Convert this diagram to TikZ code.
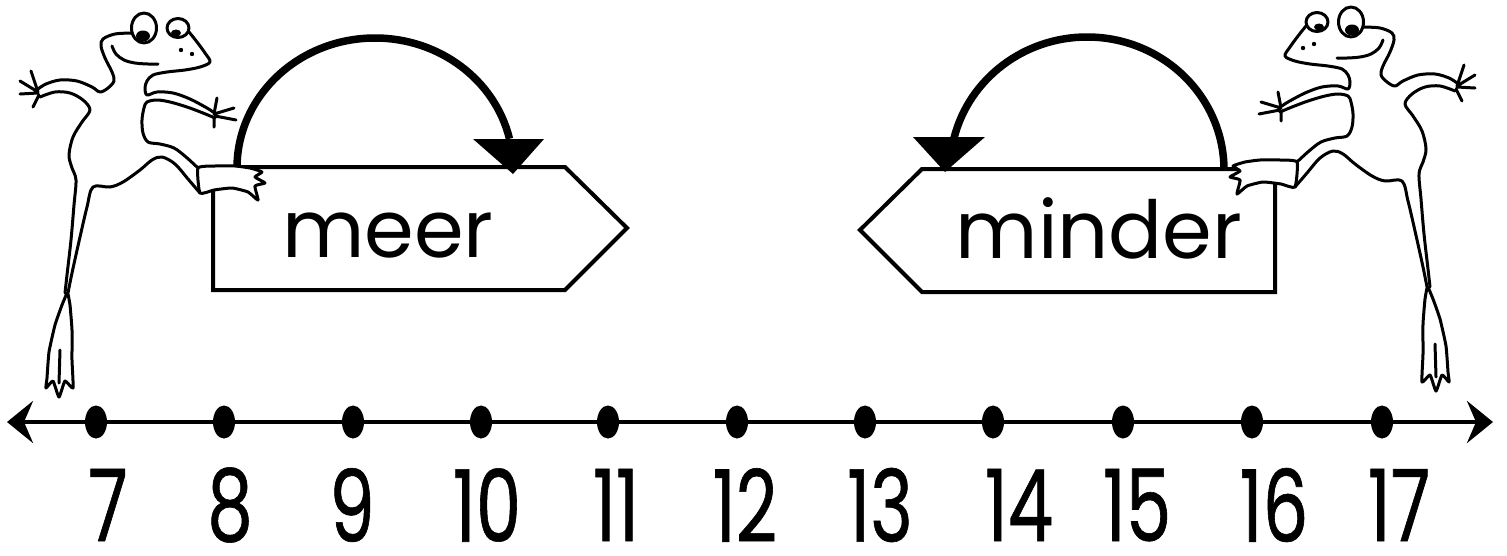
\documentclass[tikz,border=0pt]{standalone}
\usepackage{fontspec}
\usetikzlibrary{arrows.meta,shapes.geometric}
\newfontfamily\wordfont{Poppins}
\newfontfamily\numfont[FakeStretch=0.72,FakeBold=0.6]{Poppins}
\tikzset{
  frogline/.style={line width=3pt,line cap=round,line join=round},
  boxline/.style={line width=4pt,line join=miter},
  jumparc/.style={line width=7.5pt},
  tipfill/.style={fill=black},
  dotmark/.style={ellipse,fill=black,minimum width=22pt,minimum height=33pt,inner sep=0pt},
  numlab/.style={font=\numfont\fontsize{100}{110}\selectfont,inner sep=0pt},
  wordlab/.style={font=\wordfont\fontsize{80}{90}\selectfont,inner sep=0pt,anchor=base},
}
\newcommand{\frogdrawing}{%
  \draw[frogline] plot[smooth,tension=0.55] coordinates {(133,33) (115,34) (103,39) (101,46) (105,58) (112,72) (114,81) (108,88) (100,92) (92,87) (77,81) (60,80) (46,84) (38,89)};
  \draw[frogline] plot[smooth,tension=0.55] coordinates {(40,97) (55,92) (70,93) (83,100) (90,110) (82,122) (73,137) (69,155) (72,168) (76,180) (74,205) (71,240) (67,275) (65,293)};
  \draw[frogline] plot[smooth,tension=0.55] coordinates {(68,293) (72,273) (80,237) (87,207) (93,187) (110,187) (123,182) (140,170) (152,160) (162,157) (175,164) (188,179) (200,193)};
  \draw[frogline] plot[smooth,tension=0.55] coordinates {(198,168) (186,157) (174,148) (160,144) (148,142) (143,133) (142,120) (144,108) (147,102) (157,100) (170,102) (187,107) (203,113) (215,118)};
  \draw[frogline] plot[smooth,tension=0.55] coordinates {(213,112) (207,108) (190,99) (173,93) (157,92) (147,95) (145,88) (147,81) (153,75) (167,72) (185,70) (200,67) (210,62) (205,53) (197,42) (189,32)};
  \filldraw[frogline,fill=white] plot[smooth cycle,tension=0.3] coordinates {(198,168) (215,166) (235,166) (250,168) (262,172) (255,177) (265,183) (255,186) (258,200) (248,192) (232,188) (214,190) (200,193)};
  \draw[frogline] (38,92) -- (31,71) (38,92) -- (20,81) (38,93) -- (20,94) (39,95) -- (33,107);
  \draw[frogline] (214,114) -- (217,98) (214,114) -- (234,108) (215,116) -- (236,120) (214,117) -- (214,127);
  \draw[frogline] plot[smooth,tension=0.3] coordinates {(67,293) (62,305) (55,325) (49,352) (47,378) (46,388) (53,381) (59,397) (65,381) (73,388) (72,360) (72,330) (70,305) (68,294)};
  \draw[frogline] (60,350) -- (59,383);
  \draw[frogline] plot[smooth,tension=0.6] coordinates {(112,46) (116,54) (124,60) (135,63) (148,64) (158,64)};
  \filldraw[frogline,fill=white] (144,28) ellipse [x radius=12.5, y radius=15];
  \fill (143,36) ellipse [x radius=7, y radius=5.5];
  \filldraw[frogline,fill=white] (178,28) ellipse [x radius=11, y radius=9.5];
  \fill (176,33) ellipse [x radius=5, y radius=3.5];
  \fill (181,50) circle (2.2);
  \fill (192,54) circle (2.2);
}
\begin{document}
\begin{tikzpicture}[x=1pt,y=-1pt]
\useasboundingbox (0,0) rectangle (1507,555);
\fill[white] (0,0) rectangle (1507,555);
% sign boxes
\draw[boxline] (213,167) -- (565,167) -- (627,228) -- (565,290) -- (213,290) -- cycle;
\draw[boxline] (1275,169) -- (922,169) -- (860,230) -- (922,292) -- (1275,292) -- cycle;
\node[wordlab] (meer) at (388,257) {meer};
\node[wordlab] (minder) at (1099,258) {minder};
% jump arcs
\coordinate (la) at (237,168);
\coordinate (ra) at (1224,170);
\draw[jumparc] (la) arc[start angle=180,end angle=347,x radius=138,y radius=130] coordinate (lb);
\draw[jumparc] (ra) arc[start angle=360,end angle=194,x radius=137,y radius=133] coordinate (rb);
\fill[tipfill] (473,139) -- (544,139) -- (513,174) -- cycle;
\fill[tipfill] (913,137) -- (985,137) -- (945,172) -- cycle;
% number line
\coordinate (nl) at (7,422);
\coordinate (nr) at (1493,422);
\draw[line width=4.5pt,{Stealth[length=26pt,width=42pt,inset=9pt]}-{Stealth[length=26pt,width=42pt,inset=9pt]}] (nl) -- (nr);
\foreach \n/\dx/\lx in {7/96/108,8/224/230,9/353/352,10/481/487,11/608/616,12/737/745,13/865/880,14/993/1019,15/1123/1137,16/1252/1274,17/1382/1399}{
  \node[dotmark] (d\n) at (\dx,422) {};
  \node[numlab] (l\n) at (\lx,505) {\n};
}
% frogs
\begin{scope}
\frogdrawing
\end{scope}
\begin{scope}[shift={(1495,-6)},xscale=-1]
\frogdrawing
\end{scope}
\end{tikzpicture}
\end{document}
